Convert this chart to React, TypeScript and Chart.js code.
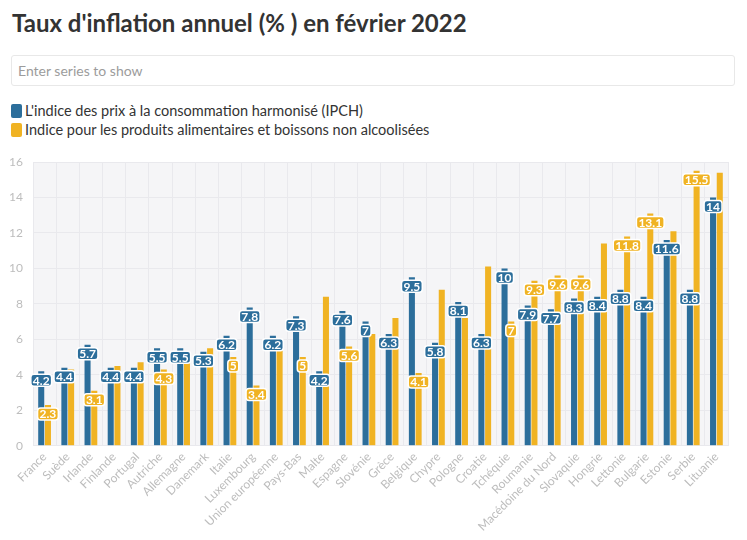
import React, { useEffect, useRef } from "react";
import { Chart, registerables } from "chart.js";

Chart.register(...registerables);

const categories = [
  "France", "Suède", "Irlande", "Finlande", "Portugal", "Autriche", "Allemagne", "Danemark",
  "Italie", "Luxembourg", "Union européenne", "Pays-Bas", "Malte", "Espagne", "Slovénie",
  "Grèce", "Belgique", "Chypre", "Pologne", "Croatie", "Tchéquie", "Roumanie",
  "Macédoine du Nord", "Slovaquie", "Hongrie", "Lettonie", "Bulgarie", "Estonie", "Serbie", "Lituanie",
];

const ipch = [
  4.2, 4.4, 5.7, 4.4, 4.4, 5.5, 5.5, 5.3, 6.2, 7.8, 6.2, 7.3, 4.2, 7.6, 7.0,
  6.3, 9.5, 5.8, 8.1, 6.3, 10, 7.9, 7.7, 8.3, 8.4, 8.8, 8.4, 11.6, 8.8, 14,
];

const food = [
  2.3, 4.3, 3.1, 4.5, 4.7, 4.3, 4.9, 5.5, 5.0, 3.4, 5.5, 5.0, 8.4, 5.6, 6.3,
  7.2, 4.1, 8.8, 7.2, 10.1, 7.0, 9.3, 9.6, 9.6, 11.4, 11.8, 13.1, 12.1, 15.5, 15.4,
];

const foodLabelShown = [
  true, false, true, false, false, true, false, false, true, true, false, true, false, true, false,
  false, true, false, false, false, true, true, true, true, false, true, true, false, true, false,
];

const seriesNames = [
  "L'indice des prix à la consommation harmonisé (IPCH)",
  "Indice pour les produits alimentaires et boissons non alcoolisées",
];
const seriesColors = ["#2c6e9b", "#f0b323"];

const yTicks = [0, 2, 4, 6, 8, 10, 12, 14, 16];

const FONT = "Lato, 'Open Sans', sans-serif";

export default function App() {
  const ref = useRef<HTMLCanvasElement | null>(null);

  useEffect(() => {
    document.body.style.margin = "0";
    const canvas = ref.current;
    if (!canvas) return;

    const bgPlugin = {
      id: "plotBg",
      beforeDraw(chart: any) {
        const { ctx, chartArea } = chart;
        ctx.save();
        ctx.fillStyle = "#f5f5f7";
        ctx.fillRect(chartArea.left, chartArea.top, chartArea.right - chartArea.left, chartArea.bottom - chartArea.top);
        ctx.restore();
      },
    };

    const labelPlugin = {
      id: "barLabels",
      afterDatasetsDraw(chart: any) {
        const ctx = chart.ctx;
        ctx.save();
        ctx.font = `bold 12px ${FONT}`;
        ctx.textAlign = "center";
        ctx.textBaseline = "middle";
        chart.data.datasets.forEach((ds: any, di: number) => {
          const meta = chart.getDatasetMeta(di);
          meta.data.forEach((bar: any, i: number) => {
            if (di === 1 && !foodLabelShown[i]) return;
            const v = ds.data[i];
            const txt = String(v);
            const w = ctx.measureText(txt).width + 4;
            const h = 12;
            const cx = bar.x;
            const cy = bar.y + 9;
            ctx.beginPath();
            ctx.roundRect(cx - w / 2, cy - h / 2, w, h, 3);
            ctx.fillStyle = seriesColors[di];
            ctx.fill();
            ctx.lineWidth = 1.5;
            ctx.strokeStyle = "#ffffff";
            ctx.stroke();
            ctx.fillStyle = "#ffffff";
            ctx.fillText(txt, cx, cy + 0.5);
          });
        });
        ctx.restore();
      },
    };

    const chart = new Chart(canvas, {
      type: "bar",
      data: {
        labels: categories,
        datasets: [
          { label: seriesNames[0], data: ipch, backgroundColor: seriesColors[0], categoryPercentage: 0.58, barPercentage: 0.9 },
          { label: seriesNames[1], data: food, backgroundColor: seriesColors[1], categoryPercentage: 0.58, barPercentage: 0.9 },
        ],
      },
      options: {
        animation: false,
        responsive: false,
        maintainAspectRatio: false,
        layout: { padding: { top: 12, right: 19, left: 0, bottom: 0 } },
        plugins: { legend: { display: false }, tooltip: { enabled: false } },
        scales: {
          x: {
            grid: { color: "#e9e9ed", offset: true, drawTicks: false },
            border: { display: false },
            ticks: {
              color: "#bdbdbd",
              font: { family: FONT, size: 12 },
              maxRotation: 45,
              minRotation: 45,
              autoSkip: false,
              padding: 4,
            },
            afterFit(s: any) { s.height = 94.3; },
          },
          y: {
            min: 0,
            max: 16,
            afterBuildTicks(s: any) { s.ticks = yTicks.map((v) => ({ value: v })); },
            grid: { color: "#e9e9ed", drawTicks: false },
            border: { display: false },
            ticks: { color: "#bdbdbd", font: { family: FONT, size: 12 }, padding: 10 },
            afterFit(s: any) { s.width = 33; s.paddingTop = 0; s.paddingBottom = 0; },
          },
        },
      },
      plugins: [bgPlugin, labelPlugin],
    });
    return () => chart.destroy();
  }, []);

  return (
    <div style={{ position: "relative", width: 747, height: 540, background: "#fff", fontFamily: FONT, overflow: "hidden" }}>
      <div style={{ position: "absolute", left: 12, top: 8, fontSize: 24, fontWeight: 700, color: "#333", whiteSpace: "nowrap" }}>
        Taux d'inflation annuel (% ) en février 2022
      </div>
      <div style={{ position: "absolute", left: 11, top: 55, width: 724, height: 31, border: "1px solid #e8e8e8", borderRadius: 3, boxSizing: "border-box" }}>
        <div style={{ position: "absolute", left: 6, top: 6, fontSize: 14, color: "#9c9c9c" }}>Enter series to show</div>
      </div>
      {seriesNames.map((n, i) => (
        <div key={n} style={{ position: "absolute", left: 11, top: 102 + i * 19, display: "flex", alignItems: "center", fontSize: 14.5, color: "#333", whiteSpace: "nowrap" }}>
          <span style={{ display: "inline-block", width: 11, height: 14, borderRadius: 2, background: seriesColors[i], marginRight: 3 }} />
          {n}
        </div>
      ))}
      <canvas ref={ref} width={747} height={390} style={{ position: "absolute", left: 0, top: 150 }} />
    </div>
  );
}
